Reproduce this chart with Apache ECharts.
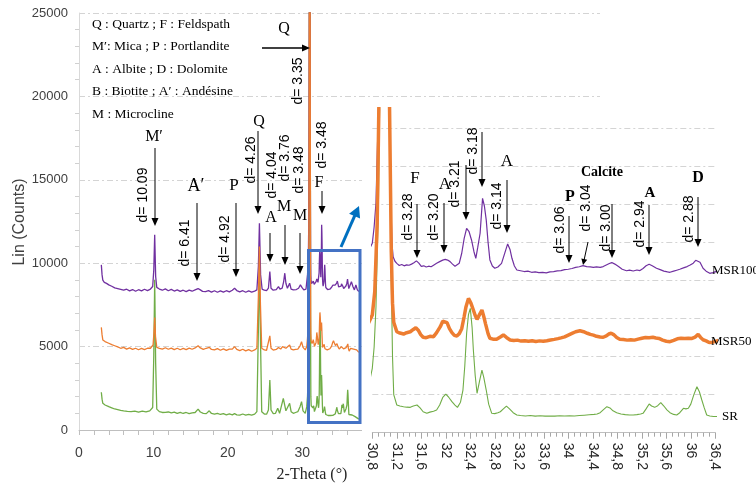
<!DOCTYPE html>
<html><head><meta charset="utf-8">
<script src="https://cdn.jsdelivr.net/npm/echarts@6/dist/echarts.min.js"></script>
<style>html,body{margin:0;padding:0;background:#fff}#c{width:756px;height:491px}</style>
</head><body><div id="c"></div>
<script>
// ---- data: [2-Theta (deg), Lin (Counts)] ----
const msr100 = [
[3.0,9900],[3.1,9300],[3.2,8990],[3.4,8850],[3.7,8790],[4.0,8700],[4.4,8620],[4.8,8520],[5.2,8480],[5.6,8430],[6.0,8380],[6.4,8440],[6.8,8340],[7.2,8420],[7.6,8320],[8.0,8410],[8.4,8340],[8.8,8440],[9.2,8360],[9.6,8450],[9.9,8600],[10.05,9600],[10.17,11700],[10.3,9200],[10.45,8550],[10.8,8450],[11.2,8380],[11.6,8460],[12.0,8350],[12.4,8430],[12.8,8330],[13.2,8400],[13.6,8310],[14.0,8380],[14.4,8300],[14.8,8390],[15.2,8320],[15.6,8400],[16.0,8480],[16.3,8400],[16.6,8310],[17.0,8300],[17.4,8360],[17.8,8270],[18.2,8350],[18.6,8260],[19.0,8340],[19.4,8270],[19.8,8350],[20.2,8280],[20.6,8380],[20.9,8500],[21.2,8360],[21.6,8280],[22.0,8350],[22.4,8260],[22.8,8340],[23.2,8270],[23.6,8330],[23.9,8400],[24.1,9800],[24.24,12400],[24.4,9300],[24.6,8450],[24.9,8380],[25.2,8350],[25.45,8500],[25.64,9500],[25.8,8500],[26.1,8380],[26.5,8420],[26.8,8600],[27.0,8450],[27.3,8500],[27.5,8900],[27.65,9400],[27.8,8800],[28.0,8500],[28.3,8800],[28.5,8450],[28.8,8400],[29.2,8420],[29.5,8500],[29.75,8700],[29.95,8550],[30.2,8400],[30.5,8450],[30.7,9300],
[30.8,9940],[30.83,10800],[30.86,12060],[30.9,17000],[30.95,26000],[31.0,30000],[31.05,24000],[31.09,14000],[31.12,10000],[31.14,9240],[31.17,9000],[31.2,8890],[31.24,8780],[31.28,8830],[31.32,8760],[31.36,8810],[31.4,8790],[31.44,8850],[31.48,8920],[31.52,9020],[31.56,8900],[31.6,8730],[31.64,8760],[31.68,8700],[31.72,8740],[31.76,8710],[31.8,8790],[31.85,8890],[31.9,8980],[31.95,9060],[31.99,9100],[32.03,9060],[32.07,8980],[32.11,8850],[32.15,8740],[32.18,8715],[32.22,8900],[32.26,9420],[32.3,10200],[32.34,10730],[32.38,10550],[32.42,10117],[32.46,9500],[32.49,9155],[32.52,9700],[32.56,10470],[32.6,12300],[32.63,11900],[32.66,11170],[32.69,10000],[32.72,9070],[32.76,8750],[32.8,8630],[32.85,8700],[32.91,8890],[32.96,9400],[33.01,9910],[33.05,9600],[33.08,9155],[33.12,8750],[33.16,8540],[33.22,8500],[33.28,8460],[33.34,8480],[33.4,8420],[33.46,8440],[33.52,8400],[33.58,8420],[33.64,8390],[33.7,8440],[33.76,8460],[33.82,8490],[33.88,8510],[33.94,8560],[34.0,8580],[34.06,8620],[34.12,8680],[34.18,8710],[34.24,8770],[34.3,8720],[34.36,8700],[34.41,8680],[34.46,8700],[34.52,8680],[34.57,8720],[34.62,8800],[34.67,8880],[34.71,8930],[34.76,8850],[34.82,8720],[34.88,8580],[34.95,8500],[35.0,8530],[35.06,8490],[35.12,8540],[35.17,8510],[35.22,8620],[35.27,8760],[35.32,8840],[35.37,8760],[35.44,8630],[35.5,8560],[35.56,8480],[35.62,8440],[35.66,8420],[35.72,8480],[35.77,8530],[35.82,8580],[35.88,8650],[35.94,8720],[35.99,8800],[36.04,8900],[36.08,9050],[36.11,9100],[36.15,8950],[36.2,8630],[36.25,8480],[36.31,8365],[36.36,8400],
[36.45,8500],[36.6,8890],[36.8,8600],[37.0,8400],[37.2,8690],[37.4,8400],[37.6,8300]
];
const msr50 = [
[3.0,6150],[3.1,5700],[3.2,5400],[3.5,5300],[4.0,5200],[4.4,5120],[4.8,5050],[5.2,4980],[5.6,4900],[6.0,4950],[6.4,4850],[6.8,4920],[7.2,4830],[7.6,4900],[8.0,4810],[8.4,4890],[8.8,4820],[9.2,4900],[9.6,4900],[9.95,5100],[10.08,5900],[10.17,6750],[10.28,5600],[10.45,4950],[10.8,4900],[11.2,4850],[11.6,4930],[12.0,4840],[12.4,4910],[12.8,4820],[13.2,4900],[13.6,4810],[14.0,4890],[14.4,4820],[14.8,4910],[15.2,4840],[15.6,4920],[16.0,5050],[16.3,4920],[16.7,4830],[17.1,4900],[17.5,4960],[17.8,4830],[18.2,4800],[18.6,4880],[19.0,4780],[19.4,4860],[19.8,4770],[20.2,4850],[20.6,4850],[20.9,5000],[21.2,4830],[21.6,4760],[22.0,4840],[22.4,4740],[22.8,4820],[23.2,4720],[23.6,4800],[23.9,4900],[24.1,8000],[24.24,11000],[24.38,7500],[24.55,4900],[24.9,4800],[25.2,4780],[25.45,4850],[25.64,5640],[25.8,4900],[26.1,4790],[26.5,4830],[26.8,4950],[27.1,4850],[27.35,5000],[27.55,5100],[27.8,4900],[28.05,5000],[28.3,5100],[28.5,4850],[28.8,4800],[29.1,4830],[29.4,4850],[29.7,5050],[29.9,5290],[30.1,4950],[30.4,4800],[30.6,5000],[30.7,5500],
[30.8,6180],[30.84,7400],[30.88,11000],[30.92,20000],[30.96,32000],[31.0,40000],[31.04,32000],[31.08,17500],[31.11,9500],[31.13,6800],[31.15,5800],[31.2,5300],[31.25,5230],[31.31,5180],[31.36,5250],[31.42,5300],[31.47,5420],[31.51,5510],[31.55,5380],[31.59,5150],[31.63,5010],[31.68,4990],[31.74,5060],[31.8,5040],[31.85,5250],[31.91,5565],[31.95,5850],[31.98,5950],[32.02,5780],[32.06,5460],[32.1,5250],[32.14,5110],[32.18,5080],[32.22,5200],[32.26,5460],[32.3,6100],[32.33,6615],[32.37,7050],[32.41,6800],[32.45,6440],[32.48,6150],[32.51,5950],[32.55,6200],[32.59,6440],[32.62,6100],[32.65,5700],[32.69,5200],[32.72,4955],[32.77,4910],[32.83,4900],[32.89,5020],[32.94,5130],[32.99,5000],[33.05,4870],[33.11,4840],[33.17,4860],[33.23,4810],[33.29,4830],[33.35,4800],[33.41,4830],[33.47,4790],[33.53,4820],[33.59,4800],[33.65,4830],[33.71,4870],[33.77,4900],[33.83,4940],[33.88,4980],[33.94,5030],[34.0,5120],[34.06,5210],[34.12,5300],[34.19,5350],[34.25,5300],[34.31,5220],[34.36,5160],[34.41,5120],[34.46,5060],[34.52,5020],[34.57,5010],[34.62,5080],[34.66,5180],[34.7,5220],[34.74,5150],[34.79,5000],[34.84,4910],[34.9,4890],[34.96,4860],[35.02,4880],[35.08,4860],[35.14,4910],[35.2,4960],[35.26,5000],[35.32,4990],[35.38,5010],[35.43,4970],[35.48,4950],[35.54,4860],[35.6,4800],[35.66,4780],[35.72,4850],[35.78,4930],[35.84,4960],[35.9,4940],[35.96,4960],[36.02,4950],[36.07,5020],[36.12,5160],[36.16,5000],[36.2,4880],[36.25,4820],[36.3,4730],[36.36,4750],
[36.5,4900],[36.7,5000],[36.9,4850],[37.1,4750],[37.3,4800],[37.6,4650]
];
const sr = [
[3.0,2260],[3.1,1850],[3.2,1600],[3.5,1500],[4.0,1400],[4.4,1330],[4.8,1260],[5.2,1220],[5.6,1180],[6.0,1150],[6.5,1120],[7.0,1100],[7.5,1130],[8.0,1070],[8.5,1130],[9.0,1090],[9.5,1150],[9.9,1350],[10.05,4500],[10.17,9000],[10.3,4000],[10.45,1250],[10.8,1100],[11.2,1050],[11.6,1060],[12.0,1080],[12.4,1020],[12.8,1070],[13.2,1000],[13.6,1060],[14.0,990],[14.4,1050],[14.8,980],[15.2,1030],[15.6,1050],[16.0,1250],[16.3,1080],[16.7,1000],[17.1,980],[17.5,1150],[17.8,990],[18.2,950],[18.6,1000],[19.0,930],[19.4,980],[19.8,910],[20.2,960],[20.6,910],[20.9,980],[21.2,910],[21.6,890],[22.0,960],[22.4,890],[22.8,940],[23.2,890],[23.6,950],[23.9,1100],[24.1,6000],[24.24,10000],[24.4,5000],[24.55,1100],[24.9,960],[25.2,950],[25.45,1200],[25.64,3000],[25.8,1200],[26.1,980],[26.4,1000],[26.7,1300],[26.95,1000],[27.2,1100],[27.45,1900],[27.6,1800],[27.8,1150],[28.0,1200],[28.3,1600],[28.5,1100],[28.8,1000],[29.1,1050],[29.4,1100],[29.7,1400],[29.9,1700],[30.1,1150],[30.4,1000],[30.6,1400],[30.7,2000],[30.75,2600],
[30.8,3380],[30.83,4500],[30.86,6600],[30.9,12000],[30.95,25000],[31.0,35000],[31.05,28000],[31.08,18000],[31.11,8000],[31.13,4000],[31.15,2000],[31.2,1455],[31.25,1400],[31.31,1365],[31.36,1340],[31.42,1330],[31.47,1400],[31.53,1455],[31.58,1300],[31.63,1100],[31.69,1017],[31.74,1080],[31.8,1130],[31.85,1190],[31.9,1450],[31.95,1850],[32.0,2030],[32.05,1850],[32.1,1628],[32.15,1450],[32.19,1330],[32.24,1600],[32.28,2240],[32.31,3500],[32.34,5218],[32.37,6200],[32.4,6530],[32.43,5500],[32.45,4340],[32.48,3000],[32.51,2070],[32.55,2700],[32.59,3290],[32.62,2900],[32.66,2240],[32.7,1500],[32.75,1017],[32.8,1000],[32.85,1050],[32.89,1100],[32.94,1250],[32.99,1400],[33.04,1250],[33.1,1050],[33.16,930],[33.22,900],[33.3,880],[33.38,900],[33.46,870],[33.54,890],[33.62,870],[33.7,880],[33.78,870],[33.86,890],[33.94,875],[34.02,890],[34.1,880],[34.18,900],[34.26,920],[34.34,940],[34.42,960],[34.47,980],[34.52,1050],[34.57,1200],[34.63,1365],[34.68,1300],[34.73,1150],[34.79,1050],[34.86,980],[34.93,950],[35.0,930],[35.06,930],[35.12,950],[35.18,980],[35.22,1017],[35.27,1250],[35.32,1507],[35.36,1400],[35.41,1330],[35.46,1420],[35.51,1575],[35.56,1400],[35.61,1200],[35.66,1050],[35.72,960],[35.77,930],[35.82,1050],[35.88,1280],[35.92,1250],[35.96,1280],[36.0,1500],[36.05,2000],[36.1,2415],[36.14,2150],[36.18,1717],[36.22,1300],[36.26,930],[36.31,880],[36.37,850],
[36.5,850],[36.7,900],[36.9,820],[37.1,800],[37.3,750],[37.6,650]
];
const seriesNames = ['SR', 'MSR100', 'MSR50'];
const legendLines = ['Q : Quartz ; F : Feldspath', 'M\u2032: Mica ; P : Portlandite', 'A : Albite ; D : Dolomite', 'B : Biotite ; A\u2032 : Andésine', 'M : Microcline'];

// ---- styling ----
const C_SR = '#70AD47', C_50 = '#ED7D31', C_100 = '#7030A0';
const SERIF = "'Liberation Serif','DejaVu Serif',serif";
const SANS = "'Liberation Sans','DejaVu Sans',sans-serif";
const gridDash = [6, 3, 2, 3];

const chart = echarts.init(document.getElementById('c'), null, {renderer: 'canvas'});

const G = [];
function txt(x, y, t, font, opt) {
  opt = opt || {};
  G.push({type: 'text', x: x, y: y, rotation: opt.rot || 0, z: 30,
    style: {text: t, font: font, fill: opt.fill || '#000',
      textAlign: opt.align || 'center', textVerticalAlign: 'middle',
      align: opt.align || 'center', verticalAlign: 'middle'}});
}
function arrow(x1, y1, x2, y2, opt) {
  opt = opt || {};
  const col = opt.color || '#000', lw = opt.lw || 1, L = opt.L || 8, w = opt.w || 3.5;
  const dx = x2 - x1, dy = y2 - y1, len = Math.sqrt(dx * dx + dy * dy);
  const ux = dx / len, uy = dy / len, px = -uy, py = ux;
  const bx = x2 - ux * L, by = y2 - uy * L;
  G.push({type: 'line', z: 30, shape: {x1: x1, y1: y1, x2: bx + ux * 1, y2: by + uy * 1}, style: {stroke: col, lineWidth: lw}});
  G.push({type: 'polygon', z: 30, shape: {points: [[x2, y2], [bx + px * w, by + py * w], [bx - px * w, by - py * w]]}, style: {fill: col}});
}
const R = Math.PI / 2;
const dFont = '14px ' + SANS;
const lFont = '16px ' + SERIF;

// white panel of the zoomed inset (covers the right part of the main plot)
G.push({type: 'rect', z: 5, shape: {x: 362, y: 115, width: 394, height: 376}, style: {fill: '#fff'}});

// legend text block
legendLines.forEach((s, i) => txt(92, 24 + i * 22.5, s, '13.5px ' + SERIF, {align: 'left'}));

// axis titles
txt(20, 222, 'Lin (Counts)', '16px ' + SANS, {rot: R, fill: '#404040'});
txt(312, 475, '2-Theta (\u00b0)', '16px ' + SERIF, {fill: '#262626'});

// main annotations
txt(284, 29, 'Q', lFont); arrow(262, 48, 310, 48, {lw: 1.3}); txt(298, 81, 'd= 3.35', dFont, {rot: R});
txt(154, 137, 'M\u2032', lFont); arrow(155, 148, 155, 226); txt(143, 195, 'd= 10.09', dFont, {rot: R});
txt(196, 186, 'A\u2032', '18px ' + SERIF); arrow(197, 203, 197, 281); txt(185, 243, 'd= 6.41', dFont, {rot: R});
txt(234, 186, 'P', '17px ' + SERIF); arrow(236, 203, 236, 277); txt(225, 239, 'd= 4.92', dFont, {rot: R});
txt(259, 122, 'Q', lFont); arrow(258, 131, 258, 214); txt(251, 160, 'd= 4.26', dFont, {rot: R});
txt(272, 175, 'd= 4.04', dFont, {rot: R}); txt(271, 218, 'A', lFont); arrow(270, 233, 270, 262);
txt(285, 158, 'd= 3.76', dFont, {rot: R}); txt(284, 207, 'M', lFont); arrow(285, 225, 285, 265);
txt(299, 170, 'd= 3.48', dFont, {rot: R}); txt(300, 216, 'M', lFont); arrow(300, 233, 300, 274);
txt(322, 145, 'd= 3.48', dFont, {rot: R}); txt(319, 183, 'F', lFont); arrow(322, 191, 322, 214);

// blue zoom box and arrow
G.push({type: 'rect', z: 30, shape: {x: 308.5, y: 250.5, width: 51.5, height: 172}, style: {fill: 'none', stroke: '#4472C4', lineWidth: 3}});
arrow(341, 247, 359, 206, {color: '#0070C0', lw: 3, L: 11, w: 6});

// inset annotations
txt(408, 217, 'd= 3.28', dFont, {rot: R}); txt(415, 179, 'F', '17px ' + SERIF); arrow(417, 204, 417, 258);
txt(434, 217, 'd= 3.20', dFont, {rot: R}); txt(445, 185, 'A', '17px ' + SERIF); arrow(444, 203, 444, 253);
txt(455, 184, 'd= 3.21', dFont, {rot: R}); arrow(466, 165, 466, 220);
txt(473, 151, 'd= 3.18', dFont, {rot: R}); arrow(482, 132, 482, 187);
txt(497, 206, 'd= 3.14', dFont, {rot: R}); txt(507, 162, 'A', '17px ' + SERIF); arrow(507, 180, 507, 233);
txt(602, 172, 'Calcite', 'bold 14px ' + SERIF);
txt(570, 197, 'P', 'bold 16px ' + SERIF);
txt(560, 230, 'd= 3.06', dFont, {rot: R}); arrow(569, 216, 569, 263);
txt(586, 208, 'd= 3.04', dFont, {rot: R}); arrow(588, 242, 583, 265, {L: 6, w: 3});
txt(606, 228, 'd= 3.00', dFont, {rot: R}); arrow(612, 204, 612, 258);
txt(640, 224, 'd= 2.94', dFont, {rot: R}); txt(650, 193, 'A', 'bold 15px ' + SERIF); arrow(649, 205, 649, 255);
txt(689, 219, 'd= 2.88', dFont, {rot: R}); txt(698, 178, 'D', 'bold 16px ' + SERIF); arrow(698, 197, 698, 247);

// series labels in the inset
txt(712, 271, seriesNames[1], '13px ' + SERIF, {align: 'left'});
txt(711, 342, seriesNames[2], '13px ' + SERIF, {align: 'left'});
txt(722, 417, seriesNames[0], '13px ' + SERIF, {align: 'left'});

const insetFmt = v => String(Math.round(v * 10) / 10).replace('.', ',');

const option = {
  animation: false,
  backgroundColor: '#fff',
  grid: [
    {left: 79, top: 13, width: 521, height: 417, containLabel: false, outerBoundsMode: 'none'},
    {left: 372.3, right: 40.7, top: 108.85, bottom: 58.3, containLabel: false, outerBoundsMode: 'none', z: 10},
    {left: 372.3, right: 40.7, top: 127.9, bottom: 58.3, containLabel: false, outerBoundsMode: 'none', z: 10}
  ],
  xAxis: [
    {type: 'value', gridIndex: 0, min: 0, max: 70, interval: 10,
      axisLine: {show: true, lineStyle: {color: '#bfbfbf'}},
      axisTick: {show: true, length: 5, lineStyle: {color: '#bfbfbf'}},
      minorTick: {show: true, splitNumber: 5, length: 5, lineStyle: {color: '#bfbfbf'}},
      splitLine: {show: false},
      axisLabel: {fontFamily: SANS, fontSize: 14, color: '#404040', margin: 16}},
    {type: 'value', gridIndex: 1, min: 30.8, max: 36.4, interval: 0.4, z: 10,
      axisLine: {show: true, lineStyle: {color: '#bfbfbf'}},
      axisTick: {show: true, length: 6, lineStyle: {color: '#a6a6a6'}},
      minorTick: {show: true, splitNumber: 4, length: 4, lineStyle: {color: '#a6a6a6'}},
      splitLine: {show: false},
      axisLabel: {rotate: -90, formatter: insetFmt, fontFamily: SANS, fontSize: 14, color: '#262626', margin: 10}},
    {type: 'value', gridIndex: 2, min: 30.8, max: 36.4, show: false, z: 10}
  ],
  yAxis: [
    {type: 'value', gridIndex: 0, min: 0, max: 25000, interval: 5000,
      axisLine: {show: true, lineStyle: {color: '#d9d9d9'}},
      axisTick: {show: false},
      minorTick: {show: true, splitNumber: 5, length: 4, lineStyle: {color: '#d0d0d0'}},
      splitLine: {show: true, lineStyle: {color: '#d4d4d4', type: gridDash}},
      axisLabel: {formatter: v => String(v), fontFamily: SANS, fontSize: 13, color: '#404040', margin: 11}},
    {type: 'value', gridIndex: 1, min: 0, max: 17000, show: false, splitLine: {show: false}, z: 10},
    {type: 'value', gridIndex: 2, min: 0, max: 16000, interval: 2000, z: 10,
      axisLine: {show: false}, axisTick: {show: false}, axisLabel: {show: false},
      splitLine: {show: true, lineStyle: {color: '#d4d4d4', type: gridDash}}}
  ],
  series: [
    {name: 'SR', type: 'line', xAxisIndex: 0, yAxisIndex: 0, data: sr, showSymbol: false, lineStyle: {color: C_SR, width: 1.3}, itemStyle: {color: C_SR}, z: 2},
    {name: 'MSR100', type: 'line', xAxisIndex: 0, yAxisIndex: 0, data: msr100, showSymbol: false, lineStyle: {color: C_100, width: 1.3}, itemStyle: {color: C_100}, z: 2},
    {name: 'MSR50', type: 'line', xAxisIndex: 0, yAxisIndex: 0, data: msr50, showSymbol: false, lineStyle: {color: C_50, width: 1.3}, itemStyle: {color: C_50}, z: 2},
    {name: 'SR', type: 'line', xAxisIndex: 1, yAxisIndex: 1, data: sr, showSymbol: false, lineStyle: {color: C_SR, width: 1.1}, itemStyle: {color: C_SR}, z: 11},
    {name: 'MSR100', type: 'line', xAxisIndex: 1, yAxisIndex: 1, data: msr100, showSymbol: false, lineStyle: {color: C_100, width: 1.2}, itemStyle: {color: C_100}, z: 11},
    {name: 'MSR50', type: 'line', xAxisIndex: 1, yAxisIndex: 1, data: msr50, showSymbol: false, lineStyle: {color: C_50, width: 3.5}, itemStyle: {color: C_50}, z: 11}
  ],
  graphic: {elements: G}
};
chart.setOption(option);
</script></body></html>
